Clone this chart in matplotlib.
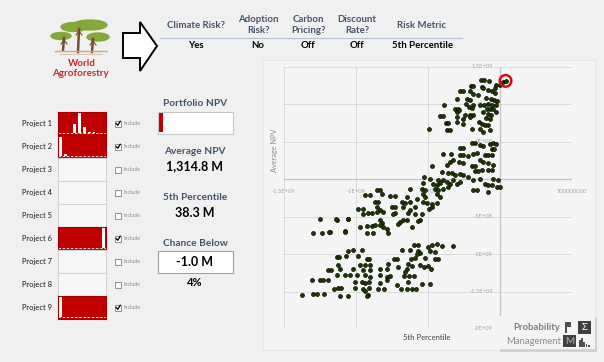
import numpy as np
import matplotlib.pyplot as plt
from matplotlib.patches import Rectangle, Polygon, Ellipse

W, H = 604, 362

plt.rcParams['font.family'] = ['Lato', 'DejaVu Sans']

# ---- dashboard data ----
header_labels = ["Climate Risk?", "Adoption\nRisk?", "Carbon\nPricing?", "Discount\nRate?", "Risk Metric"]
header_values = ["Yes", "No", "Off", "Off", "5th Percentile"]

projects = ["Project 1", "Project 2", "Project 3", "Project 4", "Project 5",
            "Project 6", "Project 7", "Project 8", "Project 9"]
included = [True, True, False, False, False, True, False, False, True]

# relative histogram heights of each included project (10 bins)
project_hists = {
    "Project 1": [0, 0, 0, 0.45, 1.0, 0.3, 0.05, 0.05, 0, 0],
    "Project 2": [0.95, 0.12, 0, 0, 0, 0, 0, 0, 0, 0],
    "Project 6": [0, 0, 0, 0, 0, 0, 0, 0, 0, 1.0],
    "Project 9": [1.0, 0, 0, 0, 0, 0, 0, 0, 0, 0],
}
portfolio_hist = [1.0, 0.04, 0.04, 0, 0, 0, 0, 0, 0, 0, 0.04, 0, 0, 0.04]

average_npv = "1,314.8 M"
percentile_5 = "38.3 M"
chance_threshold = "-1.0 M"
chance_below = "4%"

# ---- scatter data: (5th percentile, average NPV) in units of 1E+08 ----
top_cluster = [
    (-1.32, 13.24), (-1.11, 13.24), (-0.74, 13.10), (0.19, 13.01), (-0.28, 12.66),
    (0.00, 12.57), (-0.35, 12.21), (-2.04, 12.48), (-1.85, 12.48), (-1.27, 12.34),
    (-1.16, 12.21), (-0.81, 11.90), (-0.58, 11.76), (-0.35, 11.59), (-2.78, 11.76),
    (-2.59, 11.76), (-2.08, 11.76), (-1.85, 11.45), (-1.51, 11.32), (-3.01, 10.78),
    (-2.31, 10.78), (-2.08, 10.56), (-0.97, 10.87), (-0.62, 10.78), (-0.42, 10.65),
    (-0.23, 10.47), (-2.36, 10.12), (-1.85, 9.98), (-1.39, 9.98), (-1.11, 9.89),
    (-0.81, 10.12), (-0.58, 9.89), (-0.28, 9.89), (-3.89, 9.89), (-3.13, 9.45),
    (-2.89, 9.45), (-2.13, 9.67), (-1.97, 9.54), (-0.93, 9.45), (-0.69, 9.45),
    (-0.51, 9.36), (-3.01, 9.00), (-2.82, 9.22), (-2.43, 8.65), (-2.08, 8.65),
    (-1.85, 8.56), (-1.16, 9.00), (-0.81, 8.78), (-0.65, 8.65), (-0.28, 9.00),
    (-4.17, 8.47), (-3.98, 8.47), (-3.01, 8.33), (-2.59, 8.11), (-2.08, 8.33),
    (-0.97, 8.20), (-0.69, 8.11), (-3.75, 7.58), (-3.59, 7.58), (-3.01, 7.66),
    (-1.44, 7.66), (-1.27, 7.44), (-1.04, 7.31), (-0.81, 7.31), (-2.55, 7.44),
    (-3.70, 6.55), (-3.47, 6.55), (-1.97, 6.77), (-4.91, 6.68), (-1.39, 6.77),
    (-1.16, 6.33), (-0.69, 6.55),
]

middle_cluster = [
    (-2.78, 4.23), (-2.59, 4.23), (-1.97, 4.85), (-1.74, 4.85), (-1.39, 4.54),
    (-1.16, 4.41), (-0.69, 4.76), (-0.46, 4.85), (-0.28, 4.76), (-0.58, 4.10),
    (-0.42, 4.10), (-3.98, 3.43), (-3.43, 3.43), (-2.78, 3.20), (-2.55, 3.20),
    (-2.20, 3.07), (-1.85, 3.43), (-1.62, 3.52), (-1.04, 3.20), (-0.81, 3.20),
    (-0.58, 3.20), (-3.24, 2.54), (-3.47, 2.31), (-3.70, 1.87), (-2.82, 2.31),
    (-2.55, 2.18), (-1.97, 1.73), (-1.74, 1.73), (-1.39, 2.54), (-1.16, 2.31),
    (-0.81, 2.18), (-0.51, 1.87), (-4.70, 1.73), (-4.05, 0.98), (-3.59, 0.84),
    (-3.36, 0.84), (-3.13, 0.53), (-2.78, 0.75), (-2.55, 0.53), (-2.20, 0.31),
    (-1.74, 1.11), (-1.51, 1.11), (-1.27, 1.29), (-0.81, 1.20), (-0.58, 1.20),
    (-5.28, 0.31), (-4.86, 0.09), (-4.28, -0.05), (-3.94, -0.05), (-3.70, -0.36),
    (-3.24, -0.14), (-3.01, -0.58), (-2.78, -0.36), (-1.85, -0.14), (-1.39, 0.09),
    (-0.46, 0.09), (-0.12, -0.05), (-5.32, -0.49), (-4.63, -0.58), (-4.40, -0.81),
    (-4.17, -0.49), (-3.47, -0.58), (-1.04, -0.58), (-0.81, -0.72), (-0.58, -0.81),
    (-0.23, -1.03), (-5.44, -1.25), (-5.21, -1.39), (-4.51, -1.25), (-4.28, -1.47),
    (-3.94, -1.25), (-3.59, -1.03), (-1.90, -1.47), (-1.62, -1.47), (-0.81, -1.70),
    (0.00, -1.03), (-5.32, -1.92), (-5.21, -2.37), (-4.40, -1.92), (-4.17, -2.37),
    (-5.32, -3.03), (-5.09, -3.17), (-4.75, -3.26), (-4.40, -3.17), (-4.91, -3.92),
    (-4.75, -3.70), (-5.44, -4.59), (-5.56, -5.48),
]

left_cluster = [
    (-6.25, -1.25), (-8.57, -1.38), (-8.34, -1.38), (-8.22, -1.92), (-9.38, -2.14),
    (-9.03, -2.14), (-7.64, -2.27), (-7.30, -2.27), (-6.49, -2.36), (-6.83, -3.03),
    (-6.60, -3.16), (-6.25, -3.03), (-5.79, -2.58), (-8.68, -3.03), (-8.45, -3.03),
    (-9.84, -3.92), (-9.50, -3.92), (-8.57, -3.70), (-8.34, -4.05), (-7.53, -3.70),
    (-7.30, -3.70), (-6.72, -3.70), (-6.25, -4.05), (-5.91, -3.70), (-9.50, -4.59),
    (-9.15, -4.50), (-8.92, -4.50), (-8.57, -4.37), (-8.11, -4.37), (-7.30, -4.50),
    (-7.41, -4.68), (-6.37, -4.50), (-5.91, -4.59), (-11.35, -5.39), (-10.54, -5.26),
    (-8.34, -5.48), (-8.22, -5.84), (-6.95, -5.70), (-6.72, -5.48), (-6.49, -5.39),
    (-5.68, -5.57), (-9.73, -6.37), (-9.26, -6.28), (-8.92, -6.28), (-8.68, -6.15),
    (-8.34, -6.15), (-8.11, -6.37), (-7.87, -6.60), (-7.06, -5.93), (-6.14, -6.37),
    (-10.77, -6.91), (-9.26, -7.17), (-8.80, -7.17), (-7.76, -7.17), (-11.81, -7.04),
    (-12.50, -5.35), (-11.39, -5.35), (-10.53, -5.26), (-12.96, -7.13), (-12.38, -7.13),
    (-11.85, -7.04), (-10.76, -7.04),
]

bottom_cluster = [
    (-10.54, -9.63), (-10.19, -9.50), (-9.61, -9.50), (-11.35, -10.39), (-11.16, -10.39),
    (-10.72, -10.25), (-9.84, -10.25), (-9.26, -10.61), (-9.10, -10.61), (-11.23, -11.50),
    (-9.73, -11.41), (-9.38, -11.41), (-9.03, -11.50), (-11.93, -12.17), (-11.74, -12.08),
    (-11.11, -12.04), (-10.19, -12.04), (-9.49, -12.17), (-9.03, -12.17), (-8.34, -11.95),
    (-7.87, -11.95), (-7.36, -10.61), (-7.76, -11.28), (-13.08, -13.50), (-12.50, -13.50),
    (-12.27, -13.50), (-11.97, -13.42), (-11.35, -12.84), (-10.77, -12.84), (-10.42, -12.75),
    (-9.96, -12.84), (-9.38, -12.75), (-9.03, -13.06), (-8.34, -12.75), (-7.87, -13.06),
    (-7.64, -12.93), (-10.07, -13.73), (-9.61, -13.73), (-9.38, -13.82), (-9.10, -13.73),
    (-8.34, -13.82), (-7.87, -13.50), (-11.51, -14.62), (-11.28, -14.53), (-11.05, -14.53),
    (-10.07, -14.53), (-9.49, -14.62), (-9.10, -14.53), (-8.50, -14.71), (-8.04, -14.71),
    (-13.78, -15.42), (-12.97, -15.29), (-12.74, -15.29), (-12.20, -15.29), (-9.38, -14.98),
    (-9.15, -15.42), (-11.11, -15.60), (-10.58, -15.60), (-9.26, -15.64),
    (-5.95, -8.83), (-5.72, -8.83), (-5.03, -9.05), (-4.75, -8.74), (-4.40, -8.69),
    (-4.05, -8.92), (-3.24, -8.92), (-6.79, -9.50), (-6.25, -9.50), (-5.68, -9.63),
    (-5.56, -9.81), (-5.79, -9.94), (-4.86, -9.63), (-4.52, -9.72), (-6.18, -10.61),
    (-5.91, -10.52), (-5.21, -10.52), (-4.52, -10.70), (-4.29, -10.70), (-7.18, -10.70),
    (-7.06, -11.72), (-6.37, -11.28), (-6.49, -11.95), (-6.60, -12.39), (-6.14, -11.59),
    (-5.56, -11.50), (-5.26, -11.72), (-4.98, -11.59), (-4.79, -12.04), (-6.65, -12.93),
    (-6.32, -12.93), (-5.95, -12.93), (-7.18, -14.08), (-6.42, -13.73), (-5.40, -13.95),
    (-4.86, -13.95), (-6.88, -14.62), (-6.49, -14.71), (-6.14, -14.62), (-5.86, -14.62),
]

# selected portfolio (5th percentile 38.3 M, average 1,314.8 M)
selected = (0.383, 13.148)

x_ticks = [-15, -10, -5, 0, 5]
x_tick_labels = ["-1.5E+09", "-1E+09", "-5E+08", "", "500000000"]
y_ticks = [-20, -15, -10, -5, 0, 5, 10, 15]
y_tick_labels = ["-2E+09", "-1.5E+09", "-1E+09", "-5E+08", "", "5E+08", "1E+09", "1.5E+09"]

BLUE_GREY = "#44546a"
RED = "#c00000"


def ax_at(fig, x0, y0, x1, y1, **kw):
    return fig.add_axes([x0 / W, 1 - y1 / H, (x1 - x0) / W, (y1 - y0) / H], **kw)


fig = plt.figure(figsize=(W / 100, H / 100), dpi=100)
fig.patch.set_facecolor("#f0f0f0")

bg = ax_at(fig, 0, 0, W, H)
bg.set_xlim(0, W)
bg.set_ylim(H, 0)
bg.axis("off")

# logo: acacia-like trees
for (cx, cy, w, h) in [(61, 36, 20, 7), (74, 27, 26, 9), (90, 25, 34, 10), (98, 37, 22, 8)]:
    bg.add_patch(Ellipse((cx, cy), w, h, color="#86a83a"))
for (x0, x1, y0, y1) in [(64, 63, 38, 50), (79, 78, 29, 52), (93, 92, 39, 52)]:
    bg.plot([x0, x1], [y0, y1], color="#7a4a30", lw=1.8)
    bg.plot([x0 - 3, x0, x0 + 3], [y0 + 6, y0 + 2, y0 + 6], color="#7a4a30", lw=0.8)
bg.plot([55, 107], [51, 51], color="#c9a989", lw=1.0)
bg.plot([60, 102], [54, 54], color="#dcc3aa", lw=0.8)
bg.text(82, 64, "World", color="#c8262c", fontsize=7, fontweight="bold", ha="center", va="center")
bg.text(80, 74, "Agroforestry", color="#c8262c", fontsize=7, fontweight="bold", ha="center", va="center")

# arrow
bg.add_patch(Polygon([(123, 33), (140, 33), (140, 22), (157, 46), (140, 71), (140, 58), (123, 58)],
                     closed=True, facecolor="white", edgecolor="black", lw=1.4))

# header table
header_x = [196, 258, 308, 357, 422]
for x, lab, val in zip(header_x, header_labels, header_values):
    bg.text(x, 25, lab, color=BLUE_GREY, fontsize=6.9, fontweight="bold",
            ha="center", va="center", linespacing=1.3)
    bg.text(x, 46, val, color="black", fontsize=6.9, fontweight="bold", ha="center", va="center")
bg.plot([160, 462], [38, 38], color="#b4c0d4", lw=0.8)

# project rows
for i, name in enumerate(projects):
    top = 112 + 23 * i
    cy = top + 11.5
    bg.text(22, cy, name, color="#1a1a1a", fontsize=5.4, va="center", ha="left")
    box = ax_at(fig, 58, top, 106, top + 23)
    box.set_xticks([])
    box.set_yticks([])
    if included[i]:
        hist = project_hists[name]
        box.set_facecolor(RED)
        box.bar(np.arange(len(hist)) + 0.5, hist, width=0.6, color="white")
        box.plot([0, len(hist)], [0, 0], color="white", lw=0.6, ls=(0, (3, 2)))
        box.set_xlim(0, len(hist))
        box.set_ylim(-0.08, 1.05)
        for s in box.spines.values():
            s.set_color("#a00000")
    else:
        box.set_facecolor("#f7f7f7")
        for s in box.spines.values():
            s.set_color("#d4d4d4")
    # checkbox
    bg.add_patch(Rectangle((115, cy - 3), 6, 6, facecolor="white", edgecolor="#7f7f7f", lw=0.6))
    if included[i]:
        bg.plot([116.2, 117.8, 120.2], [cy, cy + 1.8, cy - 2.2], color="black", lw=0.9)
    bg.text(123, cy, "Include", color="#8c8c8c", fontsize=3.8, va="center", ha="left")

# middle panel
bg.text(195, 104, "Portfolio NPV", color=BLUE_GREY, fontsize=7.3, fontweight="bold", ha="center", va="center")
pbox = ax_at(fig, 158, 112, 233, 134)
pbox.set_facecolor("white")
pbox.bar(np.arange(len(portfolio_hist)) + 0.5, portfolio_hist, width=0.9, color=RED)
pbox.set_xlim(0, len(portfolio_hist))
pbox.set_ylim(-0.08, 1.05)
pbox.set_xticks([])
pbox.set_yticks([])
for s in pbox.spines.values():
    s.set_color("#c8c8c8")

bg.text(195, 152, "Average NPV", color=BLUE_GREY, fontsize=7.3, fontweight="bold", ha="center", va="center")
bg.text(195, 166, average_npv, color="black", fontsize=9, fontweight="bold", ha="center", va="center")
bg.text(195, 198, "5th Percentile", color=BLUE_GREY, fontsize=7.3, fontweight="bold", ha="center", va="center")
bg.text(195, 213, percentile_5, color="black", fontsize=9, fontweight="bold", ha="center", va="center")
bg.text(195, 244, "Chance Below", color=BLUE_GREY, fontsize=7.3, fontweight="bold", ha="center", va="center")
bg.add_patch(Rectangle((158, 251), 75, 22, facecolor="white", edgecolor="#a0a0a0", lw=0.8))
bg.text(195, 262, chance_threshold, color="black", fontsize=9, fontweight="bold", ha="center", va="center")
bg.text(195, 282, chance_below, color="black", fontsize=8, fontweight="bold", ha="center", va="center")

# scatter panel background
bg.add_patch(Rectangle((263, 60), 332, 290, facecolor="#f5f5f5", edgecolor="#e6e6e6", lw=0.6))

ax = ax_at(fig, 284, 67, 572, 329)
ax.set_facecolor("#f5f5f5")
ax.set_xlim(-15, 5)
ax.set_ylim(-20, 15)
for s in ax.spines.values():
    s.set_visible(False)
ax.set_xticks([])
ax.set_yticks([])
for v in x_ticks:
    ax.axvline(v, color="#dcdcdc", lw=0.7, zorder=0)
for v in y_ticks:
    ax.axhline(v, color="#dcdcdc", lw=0.7, zorder=0)
ax.axvline(0, color="#c4c4c4", lw=0.9, zorder=1)
ax.axhline(0, color="#c4c4c4", lw=0.9, zorder=1)
for v, lab in zip(x_ticks, x_tick_labels):
    ax.annotate(lab, (v, 0), xytext=(0, -9), textcoords="offset points", ha="center", va="center",
                fontsize=4.2, color="#a6a6a6", zorder=1)
for v, lab in zip(y_ticks, y_tick_labels):
    ax.annotate(lab, (0, v), xytext=(-5, 0), textcoords="offset points", ha="right", va="center",
                fontsize=4.2, color="#a6a6a6", zorder=1)

for cluster in [top_cluster, middle_cluster, left_cluster, bottom_cluster]:
    pts = np.array(cluster)
    ax.scatter(pts[:, 0], pts[:, 1], s=8, color="#1f3a00", edgecolors="#050a00", linewidths=0.5, zorder=3)
ax.scatter([selected[0]], [selected[1]], s=8, color="#1f3a00", edgecolors="#050a00", linewidths=0.5, zorder=3)
ax.scatter([selected[0]], [selected[1]], s=70, facecolors="none", edgecolors="#d01010", linewidths=1.8, zorder=4)

bg.text(274, 150, "Average NPV", color="#8c8c8c", fontsize=5.3, rotation=90, ha="center", va="center")
bg.text(427, 338, "5th Percentile", color="#404040", fontsize=5.5, ha="center", va="center", zorder=5)

# Probability Management logo
logo = ax_at(fig, 0, 0, W, H, zorder=10)
logo.set_xlim(0, W)
logo.set_ylim(H, 0)
logo.axis("off")
logo.add_patch(Rectangle((500, 318), 97, 34, facecolor="#b8b8b8", edgecolor="none", alpha=0.5))
logo.add_patch(Rectangle((498, 316), 97, 33, facecolor="#f4f4f4", edgecolor="none"))
logo.text(560, 327, "Probability", color="#7f7f7f", fontsize=6.8, fontweight="bold", ha="right", va="center")
logo.text(561, 341, "Management", color="#8c8c8c", fontsize=6.8, ha="right", va="center")
logo.add_patch(Rectangle((578, 321), 13, 13, facecolor="#404040"))
logo.text(584.5, 327.5, "\u03a3", color="white", fontsize=7, ha="center", va="center")
logo.add_patch(Rectangle((563, 335), 13, 12, facecolor="#404040"))
logo.text(569.5, 341, "M", color="#9a9a9a", fontsize=7, fontweight="bold", ha="center", va="center")
logo.add_patch(Polygon([(565, 322), (571, 322), (571, 327), (567, 327), (567, 333), (565, 333)],
                       closed=True, facecolor="#505050"))
for j, h in enumerate([7, 9, 5, 3, 2]):
    logo.add_patch(Rectangle((579 + j * 2.2, 347 - h), 1.8, h, facecolor="#505050"))

fig.savefig("out.png", dpi=100, facecolor=fig.get_facecolor())
